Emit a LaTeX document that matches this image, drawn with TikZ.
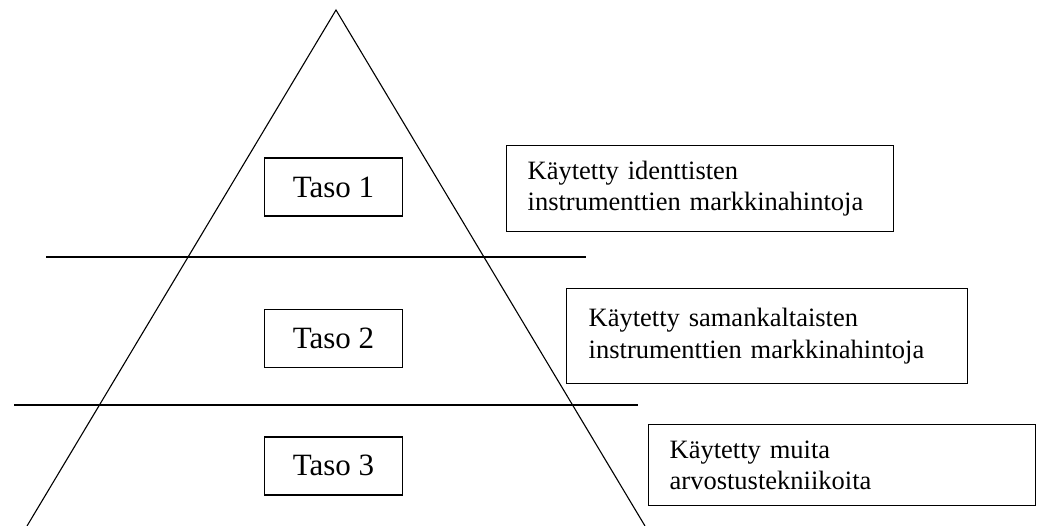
\documentclass[tikz,border=0pt]{standalone}
\usepackage{fontspec}
\setmainfont{Liberation Serif}
\usetikzlibrary{positioning}
\tikzstyle{taso} = [draw, line width=1.4pt, rectangle, minimum width=138pt, minimum height=58pt, inner sep=0pt, font=\fontsize{31}{37}\selectfont]
\tikzstyle{selite} = [draw, line width=1.4pt, rectangle, anchor=north west, align=left, inner xsep=21pt, inner ysep=0pt, font=\fontsize{26.5}{31.5}\selectfont]
\tikzstyle{viiva} = [line width=1.1pt]

\begin{document}
\begin{tikzpicture}[x=1pt, y=-1pt]
	\useasboundingbox (0,0) rectangle (1041,526);
	\coordinate (huippu) at (336,10);
	\draw[viiva] (27,526) -- (huippu) -- (645,526);
	\draw[viiva] (46,257) -- (586,257);
	\draw[viiva] (14,405) -- (638,405);
	\node[taso] (taso1) at (333.5,187) {Taso 1};
	\node[taso, below=92pt of taso1] (taso2) {Taso 2};
	\node[taso, below=68pt of taso2] (taso3) {Taso 3};
	\node[selite, text width=345pt, minimum height=86pt] (selite1) at (506,145) {Käytetty identtisten\\instrumenttien markkinahintoja};
	\node[selite, text width=357pt, inner xsep=22pt, minimum height=95pt] (selite2) at (566,288) {Käytetty samankaltaisten\\instrumenttien markkinahintoja};
	\node[selite, text width=345pt, minimum height=81pt] (selite3) at (648,424) {Käytetty muita\\arvostustekniikoita};
\end{tikzpicture}
\end{document}
